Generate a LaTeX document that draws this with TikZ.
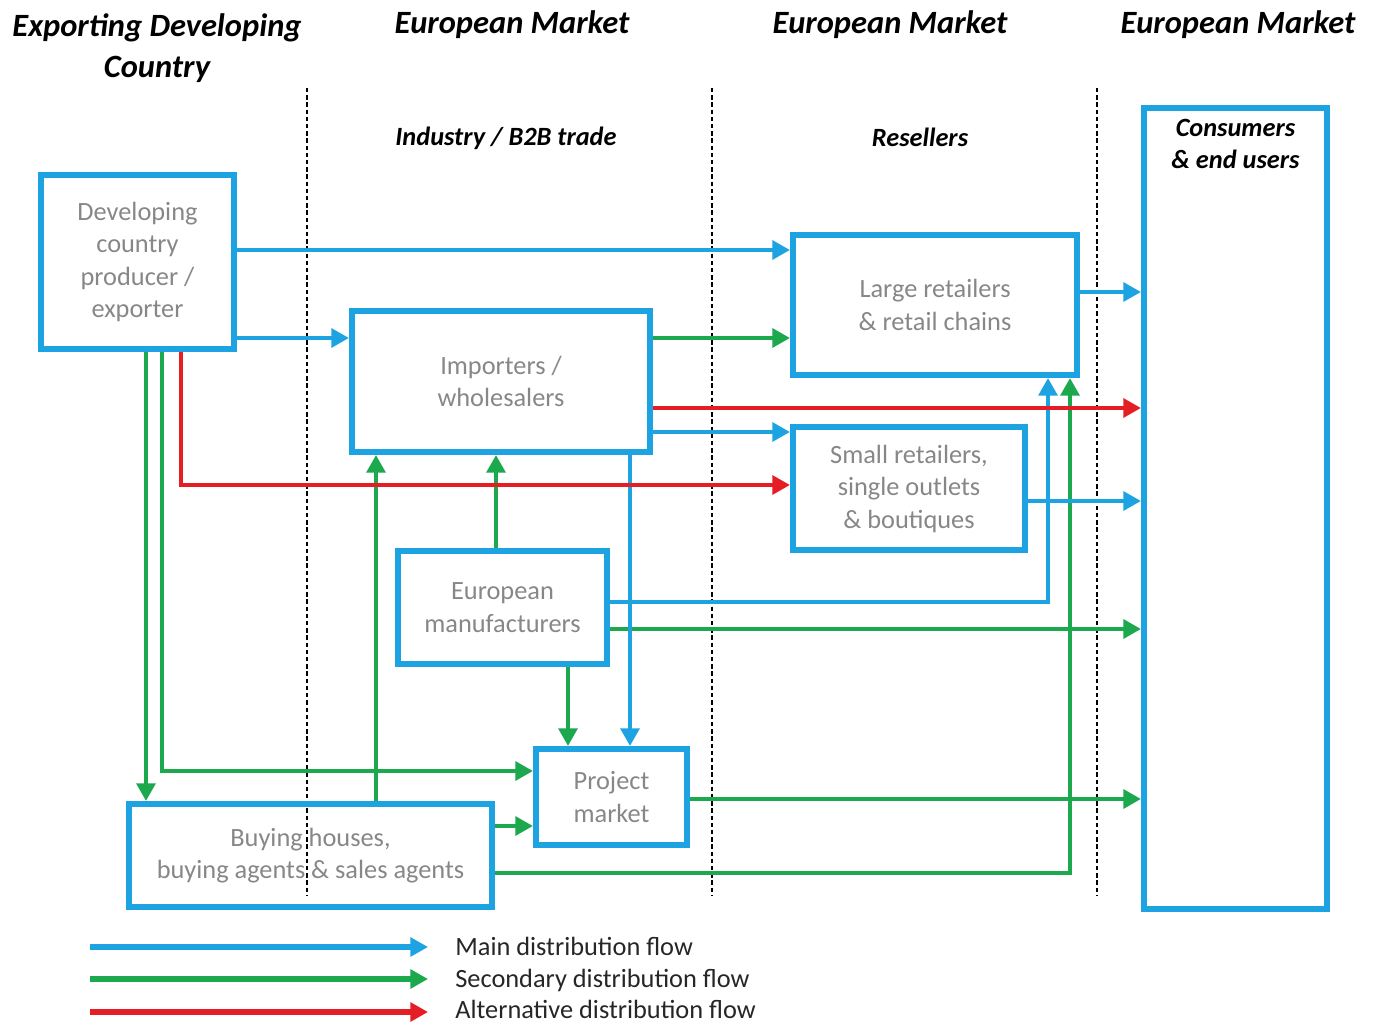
\documentclass[tikz,border=0pt]{standalone}
\usepackage{fontspec}
\setmainfont{Carlito}
\usetikzlibrary{arrows.meta}

\definecolor{flowblue}{RGB}{29,163,226}
\definecolor{flowgreen}{RGB}{28,168,76}
\definecolor{flowred}{RGB}{228,30,36}
\definecolor{boxgray}{RGB}{135,135,135}

\begin{document}
\begin{tikzpicture}[x=0.02cm, y=-0.02cm,
  box/.style={draw=flowblue, line width=3.4pt, align=center, text=boxgray,
    font=\fontsize{15}{18.5}\selectfont, inner sep=0pt},
  head/.style={font=\fontsize{18.5}{23.3}\selectfont\bfseries\itshape, align=center},
  subhead/.style={font=\fontsize{15}{18.3}\selectfont\bfseries\itshape, align=center},
  legend/.style={font=\fontsize{15}{18}\selectfont, text=black!85},
  sep/.style={line width=0.6pt, dash pattern=on 2.5pt off 1.6pt},
  flow/.style={line width=2.8pt, -{Triangle[length=10pt,width=10.5pt]}},
  mainflow/.style={flow, flowblue},
  secflow/.style={flow, flowgreen},
  altflow/.style={flow, flowred}]
  \useasboundingbox (0,0) rectangle (1378,1023);

  % Coordinates
  \coordinate (yA) at (0,250);
  \coordinate (yB) at (0,338);
  \coordinate (yC) at (0,292);
  \coordinate (yD) at (0,408);
  \coordinate (yE) at (0,432);
  \coordinate (yF) at (0,485);
  \coordinate (yG) at (0,501);
  \coordinate (yH) at (0,602);
  \coordinate (yI) at (0,629);
  \coordinate (yJ) at (0,771);
  \coordinate (yK) at (0,799);
  \coordinate (yL) at (0,826);
  \coordinate (yM) at (0,873);
  \coordinate (xa) at (146,0);
  \coordinate (xb) at (162,0);
  \coordinate (xc) at (181,0);
  \coordinate (xd) at (376,0);
  \coordinate (xe) at (496,0);
  \coordinate (xf) at (568,0);
  \coordinate (xg) at (630,0);
  \coordinate (xh) at (1048,0);
  \coordinate (xi) at (1070,0);

  % Headings
  \node[head] (hExp) at (157,48) {Exporting Developing\\Country};
  \node[head] (hInd) at (512,25) {European Market};
  \node[head] (hRes) at (890,25) {European Market};
  \node[head] (hCons) at (1238,25) {European Market};
  \node[subhead] (sInd) at (506,138) {Industry / B2B trade};
  \node[subhead] (sRes) at (920,137) {Resellers};

  % Separators
  \draw[sep] (307,88) -- (307,895);
  \draw[sep] (712,88) -- (712,895);
  \draw[sep] (1097,88) -- (1097,895);

  % Boxes
  \node[box, minimum width=3.86cm, minimum height=3.48cm] (dev) at (137.5,262)
    {Developing\\country\\producer /\\exporter};
  \node[box, minimum width=5.96cm, minimum height=2.82cm] (imp) at (501,381.5)
    {Importers /\\wholesalers};
  \node[box, minimum width=5.68cm, minimum height=2.80cm] (large) at (935,305)
    {Large retailers\\\& retail chains};
  \node[box, minimum width=4.64cm, minimum height=2.46cm] (small) at (909,488.5)
    {Small retailers,\\single outlets\\\& boutiques};
  \node[box, minimum width=4.18cm, minimum height=2.26cm] (euro) at (502.5,607.5)
    {European\\manufacturers};
  \node[box, minimum width=3.02cm, minimum height=1.92cm] (proj) at (611.5,797)
    {Project\\market};
  \node[box, minimum width=7.26cm, minimum height=2.06cm] (buy) at (310.5,855.5)
    {Buying houses,\\buying agents \& sales agents};
  \node[box, minimum width=3.66cm, minimum height=16.02cm] (cons) at (1235.5,508.5) {};
  \node[subhead, anchor=north, inner sep=0pt] (consTxt) at ([yshift=-0.28cm]cons.north)
    {Consumers\\\& end users};

  % Secondary flows
  \draw[secflow] (imp.east |- yB) -- (large.west |- yB);
  \draw[secflow] (euro.north -| xe) -- (imp.south -| xe);
  \draw[secflow] (euro.east |- yI) -- (cons.west |- yI);
  \draw[secflow] (euro.south -| xf) -- (proj.north -| xf);
  \draw[secflow] (dev.south -| xa) -- (buy.north -| xa);
  \draw[secflow] (dev.south -| xb) |- (proj.west |- yJ);
  \draw[secflow] (buy.north -| xd) -- (imp.south -| xd);
  \draw[secflow] (buy.east |- yL) -- (proj.west |- yL);
  \draw[secflow] (proj.east |- yK) -- (cons.west |- yK);
  \draw[secflow] (buy.east |- yM) -| (large.south -| xi);

  % Main flows
  \draw[mainflow] (dev.east |- yA) -- (large.west |- yA);
  \draw[mainflow] (dev.east |- yB) -- (imp.west |- yB);
  \draw[mainflow] (imp.east |- yE) -- (small.west |- yE);
  \draw[mainflow] (large.east |- yC) -- (cons.west |- yC);
  \draw[mainflow] (small.east |- yG) -- (cons.west |- yG);
  \draw[mainflow] (euro.east |- yH) -| (large.south -| xh);
  \draw[mainflow] (imp.south -| xg) -- (proj.north -| xg);

  % Alternative flows
  \draw[altflow] (dev.south -| xc) |- (small.west |- yF);
  \draw[altflow] (imp.east |- yD) -- (cons.west |- yD);

  % Legend
  \coordinate (lgMainS) at (90,947);
  \coordinate (lgMainE) at (428,947);
  \coordinate (lgSecS) at (90,979);
  \coordinate (lgSecE) at (428,979);
  \coordinate (lgAltS) at (90,1012);
  \coordinate (lgAltE) at (428,1012);
  \draw[mainflow, line width=3.2pt] (lgMainS) -- (lgMainE);
  \draw[secflow, line width=3.2pt] (lgSecS) -- (lgSecE);
  \draw[altflow, line width=3.2pt] (lgAltS) -- (lgAltE);
  \node[legend, anchor=base west, inner sep=0pt] (lgMain) at (455,955) {Main distribution flow};
  \node[legend, anchor=base west, inner sep=0pt] (lgSec) at (455,987) {Secondary distribution flow};
  \node[legend, anchor=base west, inner sep=0pt] (lgAlt) at (455,1018) {Alternative distribution flow};
\end{tikzpicture}
\end{document}
